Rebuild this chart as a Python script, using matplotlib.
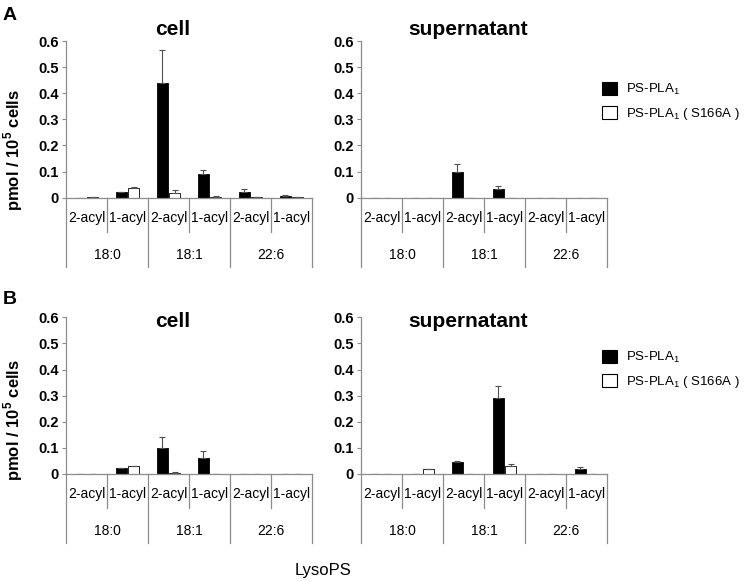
import numpy as np
import matplotlib
matplotlib.use('Agg')
import matplotlib.pyplot as plt
from matplotlib.patches import Patch

plt.rcParams['font.family'] = ['Liberation Sans', 'DejaVu Sans']
plt.rcParams['mathtext.fontset'] = 'custom'
plt.rcParams['mathtext.rm'] = 'Liberation Sans'
plt.rcParams['mathtext.bf'] = 'Liberation Sans:bold'

# categories
subgroups = ['2-acyl', '1-acyl', '2-acyl', '1-acyl', '2-acyl', '1-acyl']
groups = ['18:0', '18:1', '22:6']
series = ['PS-PLA$_1$', 'PS-PLA$_1$ ( S166A )']

# A - cell
a_cell_wt = [0.0, 0.02, 0.44, 0.09, 0.022, 0.007]
a_cell_wt_err = [0.0, 0.003, 0.125, 0.018, 0.01, 0.003]
a_cell_mut = [0.001, 0.038, 0.018, 0.004, 0.001, 0.001]
a_cell_mut_err = [0.0, 0.003, 0.01, 0.002, 0.0, 0.0]
# A - supernatant
a_sup_wt = [0.0, 0.0, 0.098, 0.035, 0.0, 0.0]
a_sup_wt_err = [0.0, 0.0, 0.03, 0.01, 0.0, 0.0]
a_sup_mut = [0.0, 0.0, 0.0, 0.0, 0.0, 0.0]
a_sup_mut_err = [0.0, 0.0, 0.0, 0.0, 0.0, 0.0]
# B - cell
b_cell_wt = [0.0, 0.022, 0.1, 0.062, 0.0, 0.0]
b_cell_wt_err = [0.0, 0.002, 0.042, 0.026, 0.0, 0.0]
b_cell_mut = [0.0, 0.03, 0.005, 0.0, 0.0, 0.0]
b_cell_mut_err = [0.0, 0.001, 0.001, 0.0, 0.0, 0.0]
# B - supernatant
b_sup_wt = [0.0, 0.0, 0.044, 0.29, 0.0, 0.02]
b_sup_wt_err = [0.0, 0.0, 0.005, 0.045, 0.0, 0.008]
b_sup_mut = [0.0, 0.018, 0.0, 0.03, 0.0, 0.0]
b_sup_mut_err = [0.0, 0.002, 0.0, 0.008, 0.0, 0.0]

axis_col = '#8c8c8c'

fig = plt.figure(figsize=(7.47, 5.81), dpi=100)


def panel(rect, title, wt, wt_err, mut, mut_err):
    ax = fig.add_axes(rect)
    x = np.arange(len(subgroups)) + 0.5
    err_kw = dict(ecolor='#505050', elinewidth=0.8, capsize=2.5, capthick=0.8)
    ax.bar(x - 0.15, wt, 0.28, color='black', edgecolor='black', lw=0.6,
           yerr=[np.zeros(len(wt)), wt_err], error_kw=err_kw, zorder=2)
    ax.bar(x + 0.15, mut, 0.28, color='white', edgecolor='black', lw=0.6,
           yerr=[np.zeros(len(mut)), mut_err], error_kw=err_kw, zorder=2)
    ax.set_xlim(0, 6)
    ax.set_ylim(0, 0.6)
    ax.set_yticks([0, 0.1, 0.2, 0.3, 0.4, 0.5, 0.6])
    ax.set_yticklabels(['0', '0.1', '0.2', '0.3', '0.4', '0.5', '0.6'],
                       fontsize=10.5, fontweight='bold')
    ax.tick_params(axis='y', length=3, color=axis_col, width=0.8, pad=2)
    ax.set_xticks([])
    for s in ['top', 'right']:
        ax.spines[s].set_visible(False)
    for s in ['left', 'bottom']:
        ax.spines[s].set_color(axis_col)
        ax.spines[s].set_linewidth(0.9)
    tr = ax.get_xaxis_transform()
    # category dividers below the axis
    for xd in [1, 3, 5]:
        ax.plot([xd, xd], [0, -0.217], color=axis_col, lw=0.9,
                transform=tr, clip_on=False)
    for xd in [0, 2, 4, 6]:
        ax.plot([xd, xd], [0, -0.44], color=axis_col, lw=0.9,
                transform=tr, clip_on=False)
    for xi, lab in zip(x, subgroups):
        ax.text(xi, -0.128, lab, transform=tr, ha='center', va='center',
                fontsize=10)
    for gi, lab in enumerate(groups):
        ax.text(2 * gi + 1, -0.364, lab, transform=tr, ha='center',
                va='center', fontsize=10)
    ax.set_title(title, fontsize=15, fontweight='bold', x=0.435, pad=4)
    return ax


w = 0.3293
h = 0.2697
ax1 = panel([0.0884, 0.6597, w, h], 'cell', a_cell_wt, a_cell_wt_err,
            a_cell_mut, a_cell_mut_err)
ax2 = panel([0.4833, 0.6597, w, h], 'supernatant', a_sup_wt, a_sup_wt_err,
            a_sup_mut, a_sup_mut_err)
ax3 = panel([0.0884, 0.1842, w, h], '', b_cell_wt, b_cell_wt_err,
            b_cell_mut, b_cell_mut_err)
ax4 = panel([0.4833, 0.1842, w, h], '', b_sup_wt, b_sup_wt_err,
            b_sup_mut, b_sup_mut_err)
# panel B titles sit inside the plot area
ax3.text(0.435, 0.97, 'cell', transform=ax3.transAxes, ha='center',
         va='center', fontsize=15, fontweight='bold')
ax4.text(0.435, 0.97, 'supernatant', transform=ax4.transAxes, ha='center',
         va='center', fontsize=15, fontweight='bold')

ylab = r'pmol / 10$^{\mathbf{5}}$ cells'
fig.text(0.018, 1 - 150 / 581, ylab, rotation=90, ha='center', va='center',
         fontsize=12, fontweight='bold')
fig.text(0.018, 1 - 420 / 581, ylab, rotation=90, ha='center', va='center',
         fontsize=12, fontweight='bold')

fig.text(0.004, 1 - 15 / 581, 'A', fontsize=14, fontweight='bold',
         ha='left', va='center')
fig.text(0.004, 1 - 300 / 581, 'B', fontsize=14, fontweight='bold',
         ha='left', va='center')

fig.text(323 / 747, 1 - 570 / 581, 'LysoPS', fontsize=12, ha='center',
         va='center')

handles = [Patch(facecolor='black', edgecolor='black', lw=0.8),
           Patch(facecolor='white', edgecolor='black', lw=0.8)]
for ytop in [82, 350]:
    fig.legend(handles, series, loc='upper left',
               bbox_to_anchor=(602 / 747, 1 - ytop / 581), frameon=False,
               fontsize=9.5, handlelength=1.15, handleheight=1.15,
               handletextpad=0.7, labelspacing=0.65, borderaxespad=0,
               borderpad=0)

fig.savefig('out.png', dpi=100)
